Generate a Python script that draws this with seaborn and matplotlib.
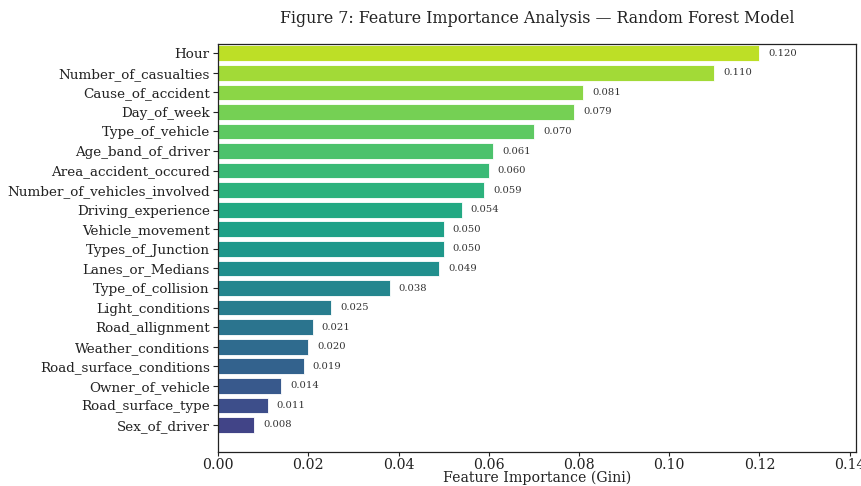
import numpy as np
import pandas as pd
import matplotlib
matplotlib.use("Agg")
import matplotlib.pyplot as plt
import seaborn as sns

features = [
    "Hour", "Number_of_casualties", "Cause_of_accident", "Day_of_week",
    "Type_of_vehicle", "Age_band_of_driver", "Area_accident_occured",
    "Number_of_vehicles_involved", "Driving_experience", "Vehicle_movement",
    "Types_of_Junction", "Lanes_or_Medians", "Type_of_collision",
    "Light_conditions", "Road_allignment", "Weather_conditions",
    "Road_surface_conditions", "Owner_of_vehicle", "Road_surface_type",
    "Sex_of_driver",
]
importance = [
    0.120, 0.110, 0.081, 0.079, 0.070, 0.061, 0.060, 0.059, 0.054, 0.050,
    0.050, 0.049, 0.038, 0.025, 0.021, 0.020, 0.019, 0.014, 0.011, 0.008,
]
x_ticks = [0.00, 0.02, 0.04, 0.06, 0.08, 0.10, 0.12, 0.14]

df = pd.DataFrame({"feature": features, "importance": importance})

sns.set_theme(style="ticks")
plt.rcParams["font.family"] = ["DejaVu Serif"]

cmap = plt.get_cmap("viridis")
colors = [cmap(v) for v in np.linspace(0.9, 0.2, len(features))]

fig = plt.figure(figsize=(8.62, 4.86), dpi=100)
ax = fig.add_axes([0.253, 0.070, 0.740, 0.839])

sns.barplot(data=df, y="feature", x="importance", hue="feature",
            palette=colors, saturation=1, legend=False, orient="h", width=0.8,
            edgecolor="white", linewidth=0.6, ax=ax)

for i, v in enumerate(importance):
    ax.text(v + 0.002, i, f"{v:.3f}", va="center", ha="left",
            fontsize=7.2, color="#333333")

ax.set_xlim(0, 0.1414)
ax.set_ylim(20.38, -0.46)
ax.set_xticks(x_ticks)
ax.set_xticklabels([f"{t:.2f}" for t in x_ticks])
ax.tick_params(axis="y", labelsize=9.7, colors="#222222", length=3.5, width=0.8, pad=2.5)
ax.tick_params(axis="x", labelsize=10.2, colors="#222222", length=3, width=0.8, pad=1.5)
ax.set_ylabel("")
ax.set_xlabel("Feature Importance (Gini)", fontsize=10.2, color="#222222", labelpad=-1)
ax.set_title("Figure 7: Feature Importance Analysis \u2014 Random Forest Model",
             fontsize=11.4, color="#222222", pad=15)
for s in ax.spines.values():
    s.set_visible(True)
    s.set_color("#222222")
    s.set_linewidth(0.9)

fig.savefig("out.png", dpi=100, facecolor="white")
